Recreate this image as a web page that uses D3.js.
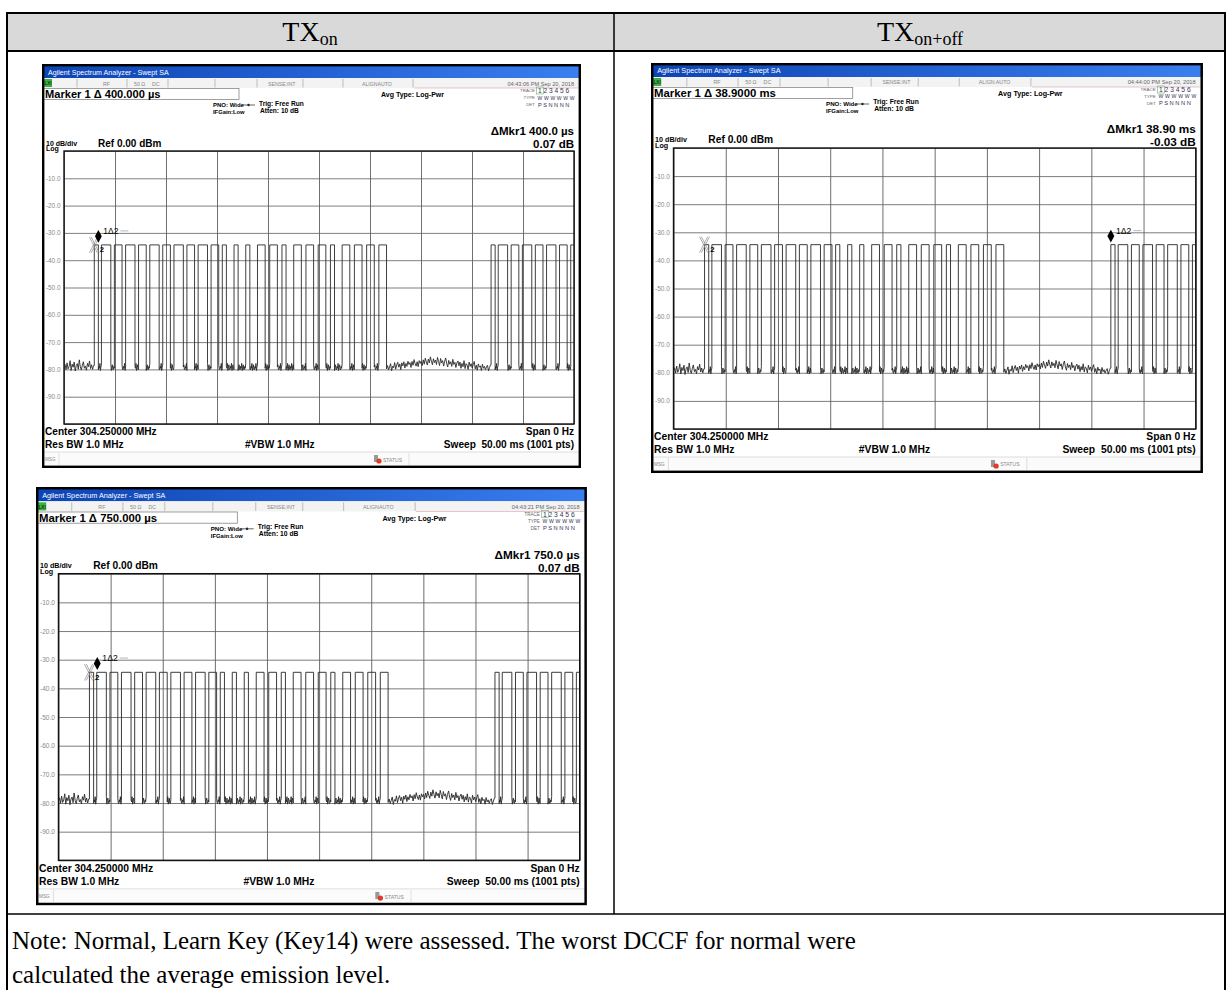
<!DOCTYPE html>
<html>
<head>
<meta charset="utf-8">
<script src="https://cdn.jsdelivr.net/npm/d3@7"></script>
<style>
  body { margin: 0; background: #fff; }
  svg { display: block; }
</style>
</head>
<body>
<script>
// ---- data ----
const headerCells = [
  { main: "TX", sub: "on" },
  { main: "TX", sub: "on+off" },
];
const noteLines = [
  "Note: Normal, Learn Key (Key14) were assessed. The worst DCCF for normal were",
  "calculated the average emission level.",
];

// analyzer settings (same for all 3 captures)
const sweepMs = 50;
const timeGrid = [0, 5, 10, 15, 20, 25, 30, 35, 40, 45, 50];
const dbGrid = [0, -10, -20, -30, -40, -50, -60, -70, -80, -90, -100];
const dbLabels = [-10, -20, -30, -40, -50, -60, -70, -80, -90];

// pulse train (zero span, 1001 pts)
const highLevel = -34.4;
const burstStartMs = [2.97, 41.87];
const pulseOnUs = [400, 920, 750, 920, 750, 920, 750, 920, 750, 920, 750, 400, 400, 400, 750, 750, 400, 750, 750, 750, 400, 750, 750, 750, 750];
const pulseOffUs = [300, 350, 350, 350, 350, 350, 350, 350, 350, 350, 350, 750, 750, 750, 450, 450, 750, 450, 450, 450, 750, 450, 450, 450, 0];
const preNoise = [-79.5, -78.2, -80.1, -77.6, -79.8, -78.9, -76.8, -80.4, -78.1, -79.2, -77.3, -80.6, -78.6, -77.9, -79.9,
  -76.5, -79.1, -80.2, -78.4, -77.2, -79.6, -78.8, -80.3, -77.8, -79.0, -76.9, -79.7, -78.3, -80.0, -78.6];
const gapNoise = [-79.8, -78.6, -80.2, -79.1, -77.9, -80.5, -78.8, -79.4, -77.5, -79.9,
  -78.3, -77.4, -79.2, -78.0, -80.1, -77.6, -78.7, -77.2, -79.5, -77.8,
  -78.9, -77.0, -78.2, -77.5, -79.3, -77.1, -78.5, -76.4, -77.9, -78.8,
  -77.2, -79.0, -76.8, -77.8, -77.0, -78.6, -76.5, -78.1, -75.9, -77.3,
  -78.4, -76.2, -77.6, -75.4, -77.0, -78.3, -76.1, -77.5, -76.6, -78.2,
  -75.6, -77.1, -78.6, -76.0, -77.6, -76.8, -78.8, -77.0, -75.8, -77.9,
  -79.1, -76.7, -78.1, -77.2, -78.9, -76.3, -78.2, -77.4, -79.3, -77.6,
  -76.9, -78.7, -77.3, -79.6, -77.8, -79.0, -76.8, -79.7, -77.9, -78.4,
  -80.0, -77.3, -78.9, -77.9, -79.5, -78.2, -77.1, -79.8, -78.5, -80.3,
  -78.0, -79.2, -78.7, -80.4, -78.1, -79.6, -78.9, -80.1, -79.1, -78.5,
  -80.5, -79.3, -78.3, -79.9, -80.2, -78.8, -79.5, -80.0];
const dipFloor = [-80.2, -78.9, -79.6, -77.8, -80.4, -79.1, -78.3, -80.0];

// per capture
const markerTitles = ["Marker 1 \u0394 400.000 \u00b5s", "Marker 1 \u0394 38.9000 ms", "Marker 1 \u0394 750.000 \u00b5s"];
const clockTexts = ["04:43:06 PM Sep 20, 2018", "04:44:00 PM Sep 20, 2018", "04:43:21 PM Sep 20, 2018"];
const alignTexts = ["ALIGNAUTO", "ALIGN AUTO", "ALIGNAUTO"];
const deltaTimes = ["\u0394Mkr1 400.0 \u00b5s", "\u0394Mkr1 38.90 ms", "\u0394Mkr1 750.0 \u00b5s"];
const deltaLevels = ["0.07 dB", "-0.03 dB", "0.07 dB"];
const refMarkerMs = [2.97, 2.97, 2.97];
const mkr1Ms = [3.37, 41.87, 3.72];

// ---- layout ----
const W = 1228, H = 990;
const W0 = 539, H0 = 404; // one analyzer screen, unscaled
// top: shift of graticule top, extra: added graticule height (screen units)
const screenBoxes = [
  { x: 42, y: 64, kx: 1, ky: 1, top: 0, extra: 0 },
  { x: 651, y: 63, kx: 1.024, ky: 1.0, top: -2, extra: 8 },
  { x: 36, y: 487, kx: 1.022, ky: 1.02, top: -2, extra: 8 },
];
const sans = "'Liberation Sans', Arial, sans-serif";
const serif = "'Liberation Serif', 'Times New Roman', serif";
const noteTop = 914;

const svg = d3.select("body").append("svg").attr("width", W).attr("height", H);

function buildTrace() {
  const pts = [];
  preNoise.forEach((v, i) => pts.push([i * 0.1, v]));
  burstStartMs.forEach((b, k) => {
    let t = b;
    pulseOnUs.forEach((on, i) => {
      if (t >= sweepMs) return;
      pts.push([t, pts[pts.length - 1][1]], [t, highLevel]);
      t += on / 1000;
      pts.push([t, highLevel]);
      if (i === pulseOnUs.length - 1) return;
      const off = pulseOffUs[i] / 1000;
      const n = Math.max(2, Math.round(off / 0.05));
      for (let j = 0; j <= n; j++) pts.push([t + (j * off) / n, dipFloor[(i * 3 + j) % dipFloor.length]]);
      t += off;
    });
    if (k === 0) {
      gapNoise.forEach((v, j) => {
        const tt = t + j * 0.1;
        if (tt < burstStartMs[1]) pts.push([tt, v]);
      });
    }
  });
  return pts;
}
const tracePts = buildTrace();

function drawTable() {
  svg.append("rect").attr("x", 7).attr("y", 13).attr("width", 1218).attr("height", 38).attr("fill", "#d9d9d9");
  const lines = [
    [7, 13, 1225, 13, 2],
    [7, 51, 1225, 51, 2],
    [7, 12, 7, 990, 2],
    [1225, 12, 1225, 990, 2],
    [614, 13, 614, noteTop, 1.5],
    [7, noteTop, 1225, noteTop, 1.5],
  ];
  svg.selectAll("line.tbl").data(lines).enter().append("line")
    .attr("class", "tbl")
    .attr("x1", (d) => d[0]).attr("y1", (d) => d[1])
    .attr("x2", (d) => d[2]).attr("y2", (d) => d[3])
    .attr("stroke", "#000").attr("stroke-width", (d) => d[4]);

  const centers = [310, 920];
  headerCells.forEach((c, i) => {
    const t = svg.append("text")
      .attr("x", centers[i]).attr("y", 41)
      .attr("text-anchor", "middle")
      .attr("font-family", serif).attr("font-size", 28);
    t.append("tspan").text(c.main);
    t.append("tspan").attr("font-size", 18).attr("dy", 4).text(c.sub);
  });

  svg.selectAll("text.note").data(noteLines).enter().append("text")
    .attr("class", "note")
    .attr("x", 12).attr("y", (d, i) => noteTop + 35 + i * 34)
    .attr("font-family", serif).attr("font-size", 25)
    .text((d) => d);
}

function drawScreen(i) {
  const box = screenBoxes[i];
  const grat = { x: 22, y: 87 + box.top, w: 510, h: 273 + box.extra };
  const dB = box.top + box.extra; // shift of everything below the graticule
  const sh = H0 + dB;
  const g = svg.append("g")
    .attr("transform", `translate(${box.x},${box.y}) scale(${box.kx},${box.ky})`)
    .attr("font-family", sans);
  const x = d3.scaleLinear().domain([0, sweepMs]).range([grat.x, grat.x + grat.w]);
  const y = d3.scaleLinear().domain([-100, 0]).range([grat.y + grat.h, grat.y]);

  g.append("rect").attr("width", W0).attr("height", sh).attr("fill", "#fff");

  // title bar
  g.append("rect").attr("width", W0).attr("height", 14).attr("fill", "url(#titleGrad)");
  g.append("text").attr("x", 6).attr("y", 10.5).attr("fill", "#fff").attr("font-size", 7.1)
    .text("Agilent Spectrum Analyzer - Swept SA");

  // status row
  g.append("rect").attr("y", 14).attr("width", W0).attr("height", 10).attr("fill", "#f3f3f3");
  g.append("rect").attr("x", 2).attr("y", 15).attr("width", 8).attr("height", 8).attr("fill", "#3cb043");
  g.append("text").attr("x", 2.6).attr("y", 21.4).attr("font-size", 4.6).attr("fill", "#000").text("LXI");
  g.selectAll("line.sep").data([35, 85, 126, 173, 215, 261, 301, 371]).enter().append("line")
    .attr("class", "sep").attr("x1", (d) => d).attr("x2", (d) => d).attr("y1", 15).attr("y2", 23.5)
    .attr("stroke", "#999").attr("stroke-width", 0.6);
  const st = [[61, "RF"], [92, "50 \u03a9"], [110, "DC"], [226, "SENSE:INT"], [320, alignTexts[i]]];
  g.selectAll("text.st").data(st).enter().append("text").attr("class", "st")
    .attr("x", (d) => d[0]).attr("y", 21.5).attr("font-size", 5.2).attr("fill", "#888").text((d) => d[1]);
  g.append("text").attr("x", 532).attr("y", 21.5).attr("text-anchor", "end").attr("font-size", 5.6)
    .attr("fill", "#666").text(clockTexts[i]);
  g.append("line").attr("x1", 372).attr("x2", W0 - 3).attr("y1", 24).attr("y2", 24)
    .attr("stroke", "#d8a0b0").attr("stroke-width", 0.6);

  // marker entry box
  g.append("rect").attr("x", 1).attr("y", 24.5).attr("width", 196).attr("height", 11)
    .attr("fill", "#fff").attr("stroke", "#888").attr("stroke-width", 0.8);
  g.append("text").attr("x", 3).attr("y", 34).attr("font-size", 11.1).attr("font-weight", "bold")
    .text(markerTitles[i]);

  // settings
  const bold = (tx, ty, s, size, anchor) =>
    g.append("text").attr("x", tx).attr("y", ty).attr("font-size", size).attr("font-weight", "bold")
      .attr("text-anchor", anchor || "start").text(s);
  bold(171, 43, "PNO: Wide", 6);
  bold(171, 50, "IFGain:Low", 5.8);
  g.append("line").attr("x1", 200).attr("x2", 213).attr("y1", 41).attr("y2", 41).attr("stroke", "#222").attr("stroke-width", 0.7);
  g.append("circle").attr("cx", 206.5).attr("cy", 41).attr("r", 1.2).attr("fill", "#222");
  bold(217, 41.5, "Trig: Free Run", 6.6);
  bold(218, 48.5, "Atten: 10 dB", 6.6);
  bold(339, 33, "Avg Type: Log-Pwr", 7);

  // trace table (TRACE / TYPE / DET)
  g.append("text").attr("x", 493).attr("y", 28).attr("text-anchor", "end").attr("font-size", 4.4).attr("fill", "#666").text("TRACE");
  g.append("text").attr("x", 493).attr("y", 35).attr("text-anchor", "end").attr("font-size", 4.4).attr("fill", "#666").text("TYPE");
  g.append("text").attr("x", 493).attr("y", 42).attr("text-anchor", "end").attr("font-size", 4.4).attr("fill", "#666").text("DET");
  g.append("rect").attr("x", 494.5).attr("y", 23).attr("width", 7).attr("height", 7)
    .attr("fill", "none").attr("stroke", "#6fae6f").attr("stroke-width", 0.6);
  g.append("text").attr("x", 496).attr("y", 29).attr("font-size", 6.6).attr("fill", "#335").text("1 2 3 4 5 6");
  g.append("text").attr("x", 495.5).attr("y", 35.5).attr("font-size", 5).attr("fill", "#335")
    .attr("textLength", 37).text("WWWWWW");
  g.append("text").attr("x", 496).attr("y", 42.5).attr("font-size", 5.6).attr("fill", "#335").text("P S N N N N");

  // delta marker readout
  bold(532, 70.5, deltaTimes[i], 11.5, "end");
  bold(532, 83.5, deltaLevels[i], 11.5, "end");
  bold(4, 81.5 + box.top, "10 dB/div", 7);
  bold(4, 87 + box.top, "Log", 7);
  bold(56, 82.5 + box.top, "Ref 0.00 dBm", 10);

  // graticule via axes
  const gridY = d3.axisLeft(y).tickValues(dbGrid).tickSize(-grat.w).tickFormat("");
  g.append("g").attr("transform", `translate(${grat.x},0)`).call(gridY)
    .call((a) => a.select(".domain").remove())
    .call((a) => a.selectAll("line").attr("stroke", "#707070").attr("stroke-width", 0.9));
  const gridX = d3.axisBottom(x).tickValues(timeGrid).tickSize(-grat.h).tickFormat("");
  g.append("g").attr("transform", `translate(0,${grat.y + grat.h})`).call(gridX)
    .call((a) => a.select(".domain").remove())
    .call((a) => a.selectAll("line").attr("stroke", "#606060").attr("stroke-width", 0.9));
  const labY = d3.axisLeft(y).tickValues(dbLabels).tickSize(0).tickPadding(3.5).tickFormat((d) => d.toFixed(1));
  g.append("g").attr("transform", `translate(${grat.x},0)`).call(labY)
    .call((a) => a.select(".domain").remove())
    .call((a) => a.selectAll("text").attr("font-size", 6.4).attr("fill", "#8a8a8a").attr("font-family", sans));
  g.append("rect").attr("x", grat.x).attr("y", grat.y).attr("width", grat.w).attr("height", grat.h)
    .attr("fill", "none").attr("stroke", "#111").attr("stroke-width", 1.4);

  // trace
  g.append("clipPath").attr("id", `clip${i}`).append("rect")
    .attr("x", grat.x).attr("y", grat.y).attr("width", grat.w).attr("height", grat.h);
  const line = d3.line().x((d) => x(d[0])).y((d) => y(d[1]));
  g.append("path").datum(tracePts).attr("d", line).attr("clip-path", `url(#clip${i})`)
    .attr("fill", "none").attr("stroke", "#2a2a2a").attr("stroke-width", 0.9);

  // markers
  const xr = x(refMarkerMs[i]), xm = x(mkr1Ms[i]), yt = y(highLevel);
  [-0.9, 0.9].forEach((o) => {
    g.append("line").attr("x1", xr - 4 + o).attr("y1", yt - 8).attr("x2", xr + 4 + o).attr("y2", yt + 8)
      .attr("stroke", "#8a8a8a").attr("stroke-width", 0.7);
    g.append("line").attr("x1", xr + 4 + o).attr("y1", yt - 8).attr("x2", xr - 4 + o).attr("y2", yt + 8)
      .attr("stroke", "#8a8a8a").attr("stroke-width", 0.7);
  });
  bold(xr + 5.5, yt + 7.5, "2", 7.5);
  g.append("path")
    .attr("d", `M${xm},${yt - 15} L${xm + 3.4},${yt - 8.6} L${xm},${yt - 2.2} L${xm - 3.4},${yt - 8.6} Z`)
    .attr("fill", "#000");
  g.append("text").attr("x", xm + 5).attr("y", yt - 11).attr("font-size", 8.5).text("1\u03942");
  g.append("line").attr("x1", xm + 22).attr("x2", xm + 30).attr("y1", yt - 14).attr("y2", yt - 14)
    .attr("stroke", "#888").attr("stroke-width", 0.6);

  // bottom annotation
  bold(3, 371 + dB, "Center 304.250000 MHz", 10.1);
  bold(3, 384 + dB, "Res BW 1.0 MHz", 10.1);
  bold(203, 384 + dB, "#VBW 1.0 MHz", 10.1);
  bold(532, 371 + dB, "Span 0 Hz", 10.1, "end");
  bold(532, 384 + dB, "Sweep \u00a050.00 ms (1001 pts)", 10.1, "end");

  // message / status row
  const sy = 388 + dB;
  g.append("rect").attr("y", sy).attr("width", W0).attr("height", 14).attr("fill", "#fbfbfb");
  g.append("line").attr("x1", 0).attr("x2", W0).attr("y1", sy).attr("y2", sy).attr("stroke", "#c8c8c8").attr("stroke-width", 0.6);
  g.append("text").attr("x", 3).attr("y", sy + 9).attr("font-size", 4.6).attr("fill", "#888").text("MSG");
  g.append("line").attr("x1", 17).attr("x2", 17).attr("y1", sy + 1).attr("y2", sy + 13).attr("stroke", "#ccc").attr("stroke-width", 0.6);
  g.append("rect").attr("x", 332).attr("y", sy + 3).attr("width", 4).attr("height", 7).attr("fill", "#999");
  g.append("circle").attr("cx", 337).attr("cy", sy + 9).attr("r", 2.6).attr("fill", "#e03a2a");
  g.append("text").attr("x", 341).attr("y", sy + 9.5).attr("font-size", 5).attr("fill", "#888").text("STATUS");
  g.append("line").attr("x1", 367).attr("x2", 367).attr("y1", sy + 1).attr("y2", sy + 13).attr("stroke", "#ccc").attr("stroke-width", 0.6);

  // frame
  g.append("rect").attr("x", 1.2).attr("y", 1.2).attr("width", W0 - 2.4).attr("height", sh - 2.4)
    .attr("fill", "none").attr("stroke", "#000").attr("stroke-width", 2.4);
}

const grad = svg.append("defs").append("linearGradient").attr("id", "titleGrad");
grad.append("stop").attr("offset", "0%").attr("stop-color", "#0c44b4");
grad.append("stop").attr("offset", "100%").attr("stop-color", "#3a7ef0");

drawTable();
screenBoxes.forEach((b, i) => drawScreen(i));
</script>
</body>
</html>
